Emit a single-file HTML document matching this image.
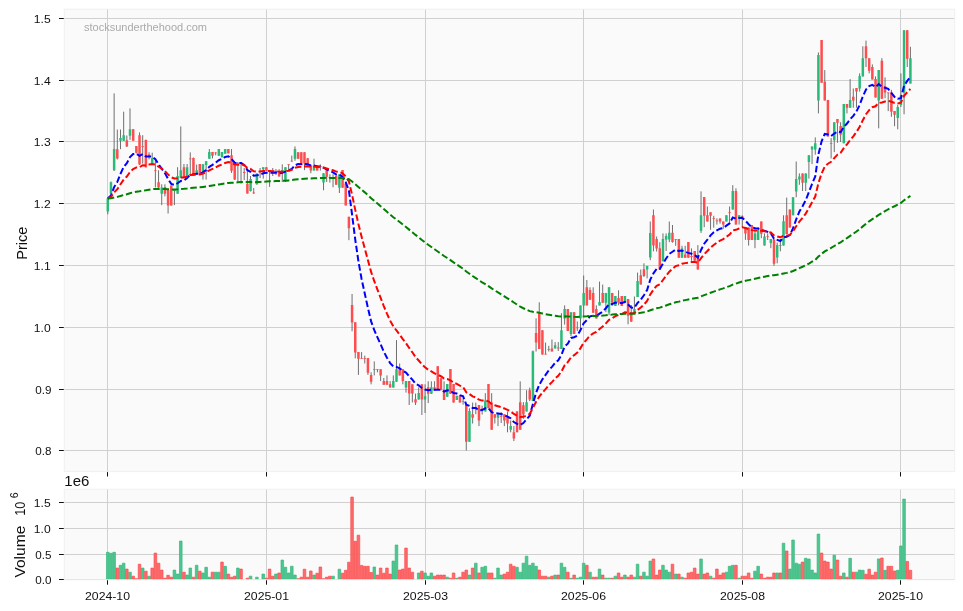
<!DOCTYPE html>
<html><head><meta charset="utf-8"><style>html,body{margin:0;padding:0;background:#fff;width:963px;height:611px;overflow:hidden;position:relative}</style></head>
<body><svg width="963" height="611" viewBox="0 0 963 611" style="position:absolute;left:0;top:0;will-change:transform"><defs><clipPath id="cp"><rect x="64.30" y="9.15" width="890.40" height="462.45"/></clipPath><clipPath id="cv"><rect x="64.30" y="489.20" width="890.40" height="90.60"/></clipPath></defs><rect x="64.3" y="9.15" width="890.40" height="462.45" fill="#fafafa"/><rect x="64.3" y="489.2" width="890.40" height="90.60" fill="#fafafa"/><path d="M107.5 9.15V471.6M107.5 489.2V579.8M266.5 9.15V471.6M266.5 489.2V579.8M425.5 9.15V471.6M425.5 489.2V579.8M583.5 9.15V471.6M583.5 489.2V579.8M742.5 9.15V471.6M742.5 489.2V579.8M900.5 9.15V471.6M900.5 489.2V579.8M64.3 450.5H954.7M64.3 389.5H954.7M64.3 327.5H954.7M64.3 265.5H954.7M64.3 203.5H954.7M64.3 141.5H954.7M64.3 80.5H954.7M64.3 18.5H954.7M64.3 579.5H954.7M64.3 554.5H954.7M64.3 528.5H954.7M64.3 502.5H954.7" stroke="#d0d0d0" stroke-width="1" fill="none"/><path d="M59 450.5H64.3M59 389.5H64.3M59 327.5H64.3M59 265.5H64.3M59 203.5H64.3M59 141.5H64.3M59 80.5H64.3M59 18.5H64.3M59 579.5H64.3M59 554.5H64.3M59 528.5H64.3M59 502.5H64.3M107.5 471.6v4.9M107.5 579.8v4.9M266.5 471.6v4.9M266.5 579.8v4.9M425.5 471.6v4.9M425.5 579.8v4.9M583.5 471.6v4.9M583.5 579.8v4.9M742.5 471.6v4.9M742.5 579.8v4.9M900.5 471.6v4.9M900.5 579.8v4.9" stroke="#101010" stroke-width="1" fill="none"/><text x="51.4" y="454.90" font-family="Liberation Sans, sans-serif" fill="#101010" font-size="11.1" text-anchor="end" textLength="16.2" lengthAdjust="spacingAndGlyphs">0.8</text><text x="51.4" y="393.90" font-family="Liberation Sans, sans-serif" fill="#101010" font-size="11.1" text-anchor="end" textLength="16.2" lengthAdjust="spacingAndGlyphs">0.9</text><text x="50.6" y="331.90" font-family="Liberation Sans, sans-serif" fill="#101010" font-size="11.1" text-anchor="end" textLength="16.8" lengthAdjust="spacingAndGlyphs">1.0</text><text x="50.6" y="269.90" font-family="Liberation Sans, sans-serif" fill="#101010" font-size="11.1" text-anchor="end" textLength="16.8" lengthAdjust="spacingAndGlyphs">1.1</text><text x="50.6" y="207.90" font-family="Liberation Sans, sans-serif" fill="#101010" font-size="11.1" text-anchor="end" textLength="16.8" lengthAdjust="spacingAndGlyphs">1.2</text><text x="50.6" y="145.90" font-family="Liberation Sans, sans-serif" fill="#101010" font-size="11.1" text-anchor="end" textLength="16.8" lengthAdjust="spacingAndGlyphs">1.3</text><text x="50.6" y="84.90" font-family="Liberation Sans, sans-serif" fill="#101010" font-size="11.1" text-anchor="end" textLength="16.8" lengthAdjust="spacingAndGlyphs">1.4</text><text x="50.6" y="22.90" font-family="Liberation Sans, sans-serif" fill="#101010" font-size="11.1" text-anchor="end" textLength="16.8" lengthAdjust="spacingAndGlyphs">1.5</text><text x="51.4" y="583.90" font-family="Liberation Sans, sans-serif" fill="#101010" font-size="11.1" text-anchor="end" textLength="16.2" lengthAdjust="spacingAndGlyphs">0.0</text><text x="51.4" y="558.90" font-family="Liberation Sans, sans-serif" fill="#101010" font-size="11.1" text-anchor="end" textLength="16.2" lengthAdjust="spacingAndGlyphs">0.5</text><text x="50.6" y="532.90" font-family="Liberation Sans, sans-serif" fill="#101010" font-size="11.1" text-anchor="end" textLength="16.8" lengthAdjust="spacingAndGlyphs">1.0</text><text x="50.6" y="506.90" font-family="Liberation Sans, sans-serif" fill="#101010" font-size="11.1" text-anchor="end" textLength="16.8" lengthAdjust="spacingAndGlyphs">1.5</text><text x="107.50" y="599.9" font-family="Liberation Sans, sans-serif" fill="#101010" font-size="10.8" text-anchor="middle" textLength="45" lengthAdjust="spacingAndGlyphs">2024-10</text><text x="266.50" y="599.9" font-family="Liberation Sans, sans-serif" fill="#101010" font-size="10.8" text-anchor="middle" textLength="45" lengthAdjust="spacingAndGlyphs">2025-01</text><text x="425.50" y="599.9" font-family="Liberation Sans, sans-serif" fill="#101010" font-size="10.8" text-anchor="middle" textLength="45" lengthAdjust="spacingAndGlyphs">2025-03</text><text x="583.50" y="599.9" font-family="Liberation Sans, sans-serif" fill="#101010" font-size="10.8" text-anchor="middle" textLength="45" lengthAdjust="spacingAndGlyphs">2025-06</text><text x="742.50" y="599.9" font-family="Liberation Sans, sans-serif" fill="#101010" font-size="10.8" text-anchor="middle" textLength="45" lengthAdjust="spacingAndGlyphs">2025-08</text><text x="900.50" y="599.9" font-family="Liberation Sans, sans-serif" fill="#101010" font-size="10.8" text-anchor="middle" textLength="45" lengthAdjust="spacingAndGlyphs">2025-10</text><text x="64.3" y="486" font-family="Liberation Sans, sans-serif" fill="#101010" font-size="14" textLength="25" lengthAdjust="spacingAndGlyphs">1e6</text><text transform="translate(26.5 243.2) rotate(-90)" font-family="Liberation Sans, sans-serif" fill="#101010" font-size="14" text-anchor="middle" textLength="33" lengthAdjust="spacingAndGlyphs">Price</text><text transform="translate(25.2 551.6) rotate(-90)" font-family="Liberation Sans, sans-serif" fill="#101010" font-size="14" text-anchor="middle" textLength="52" lengthAdjust="spacingAndGlyphs">Volume</text><text transform="translate(25.2 508.8) rotate(-90)" font-family="Liberation Sans, sans-serif" fill="#101010" font-size="14" text-anchor="middle" textLength="14" lengthAdjust="spacingAndGlyphs">10</text><text transform="translate(18.2 495.4) rotate(-90)" font-family="Liberation Sans, sans-serif" fill="#101010" font-size="10.6" text-anchor="middle">6</text><text x="84" y="30.7" font-family="Liberation Sans, sans-serif" fill="#aaaaaa" font-size="10" textLength="123" lengthAdjust="spacingAndGlyphs">stocksunderthehood.com</text><g clip-path="url(#cp)"><path d="M107.80 198.30V214.30M110.97 181.50V194.50M114.14 93.40V171.00M117.32 129.50V159.50M120.49 129.50V149.20M123.66 111.70V141.00M126.83 135.50V147.00M130.01 108.40V139.90M133.18 129.00V141.00M136.35 146.00V153.50M139.52 132.40V165.00M142.70 135.20V163.60M145.87 139.50V167.50M149.04 152.20V159.40M152.21 152.70V164.50M155.39 158.40V187.40M158.56 170.30V188.00M161.73 184.30V205.10M164.90 184.30V196.30M168.08 189.50V213.50M171.25 185.40V205.60M174.42 189.50V205.10M177.59 167.20V193.70M180.77 126.40V178.10M183.94 164.00V178.10M187.11 164.00V176.00M190.28 152.40V175.00M193.45 157.50V174.50M196.63 164.60V174.20M199.80 164.10V175.00M202.97 164.30V179.60M206.14 161.20V179.60M209.32 149.00V158.70M212.49 152.10V158.40M215.66 152.10V155.30M218.83 149.00V155.80M222.01 152.10V157.50M225.18 149.00V153.70M228.35 149.00V153.50M231.52 149.00V172.90M234.70 162.50V180.00M237.87 162.00V181.70M241.04 162.00V183.80M244.21 168.00V180.00M247.39 169.20V193.60M250.56 176.00V191.50M253.73 188.00V194.00M256.90 173.40V184.80M260.08 168.00V178.00M263.25 167.20V178.60M266.42 167.00V171.00M269.59 170.30V186.90M272.76 168.00V176.00M275.94 169.00V175.00M279.11 169.20V176.50M282.28 164.40V182.00M285.45 167.20V182.00M288.63 164.40V169.60M291.80 155.60V161.80M294.97 146.40V160.80M298.14 152.20V159.00M301.32 152.20V165.00M304.49 152.20V170.10M307.66 158.00V165.40M310.83 165.40V173.20M314.01 158.70V170.60M317.18 165.40V170.60M320.35 164.40V170.60M323.52 173.20V190.30M326.70 169.10V182.00M329.87 174.30V182.60M333.04 174.30V187.30M336.21 175.80V184.70M339.39 174.30V193.00M342.56 170.10V187.70M345.73 183.60V205.40M348.90 216.80V240.20M352.07 294.00V331.30M355.25 322.20V358.30M358.42 352.10V374.90M361.59 352.10V358.80M364.76 355.70V363.50M367.94 358.10V374.90M371.11 372.30V384.30M374.28 361.40V375.40M377.45 369.20V372.30M380.63 369.20V381.10M383.80 378.00V384.80M386.97 375.40V384.80M390.14 381.10V387.60M393.32 375.40V387.60M396.49 340.10V381.70M399.66 363.50V375.40M402.83 369.20V384.30M406.01 381.10V392.60M409.18 381.10V405.00M412.35 384.30V402.40M415.52 393.60V405.00M418.70 387.40V399.60M421.87 384.30V415.00M425.04 384.30V413.00M428.21 381.30V403.10M431.38 381.30V394.00M434.56 381.30V390.60M437.73 366.20V389.50M440.90 378.20V390.50M444.07 381.30V400.00M447.25 384.10V397.00M450.42 369.10V394.00M453.59 384.10V402.60M456.76 395.80V400.00M459.94 394.80V402.60M463.11 398.40V404.60M466.28 404.60V450.50M469.45 408.30V441.70M472.63 402.60V423.50M475.80 402.60V414.20M478.97 405.10V426.10M482.14 405.70V414.50M485.32 393.20V411.40M488.49 384.10V408.30M491.66 393.20V429.70M494.83 414.00V423.50M498.01 414.20V426.10M501.18 412.10V423.00M504.35 414.20V426.10M507.52 411.40V432.30M510.69 420.40V432.30M513.87 426.10V441.10M517.04 411.00V432.30M520.21 381.40V429.70M523.38 402.20V418.80M526.56 390.20V411.50M529.73 387.60V401.10M532.90 350.50V401.10M536.07 318.40V351.50M539.25 302.30V348.90M542.42 330.20V354.60M545.59 342.60V354.60M548.76 345.80V351.50M551.94 339.50V351.50M555.11 342.10V348.40M558.28 342.10V351.00M561.45 313.20V348.90M564.63 305.40V324.60M567.80 309.10V330.90M570.97 312.20V336.00M574.14 312.20V334.00M577.32 321.50V331.00M580.49 305.40V330.90M583.66 275.50V316.30M586.83 280.00V305.40M590.00 287.30V299.70M593.18 287.30V312.70M596.35 305.40V318.40M599.52 281.60V305.40M602.69 284.60V302.70M605.87 292.90V312.10M609.04 287.20V315.20M612.21 292.90V305.90M615.38 296.00V305.90M618.56 290.30V305.30M621.73 296.00V305.90M624.90 296.00V302.70M628.07 299.10V324.30M631.25 305.00V322.00M634.42 296.50V313.10M637.59 272.60V297.00M640.76 269.50V284.60M643.94 263.30V277.00M647.11 265.90V278.40M650.28 221.50V260.20M653.45 209.50V251.30M656.63 236.50V251.60M659.80 242.20V269.60M662.97 233.40V261.30M666.14 233.40V251.00M669.31 221.50V242.20M672.49 225.00V242.70M675.66 239.00V245.80M678.83 239.00V257.70M682.00 245.80V257.70M685.18 245.80V257.70M688.35 242.10V257.70M691.52 248.40V260.80M694.69 251.00V262.40M697.87 245.10V269.60M701.04 191.40V232.90M704.21 197.10V227.20M707.38 206.50V221.50M710.56 212.20V229.80M713.73 215.80V227.70M716.90 218.40V224.60M720.07 218.40V223.60M723.25 221.50V228.80M726.42 215.30V221.50M729.59 206.50V224.60M732.76 185.20V209.60M735.94 188.30V224.60M739.11 215.30V224.60M742.28 215.30V227.70M745.45 227.60V239.90M748.62 227.60V245.60M751.80 225.00V240.00M754.97 227.20V248.20M758.14 227.20V240.00M761.31 221.40V238.20M764.49 233.40V245.60M767.66 233.40V240.00M770.83 239.00V248.20M774.00 239.40V265.90M777.18 242.50V263.30M780.35 238.90V251.30M783.52 215.30V245.60M786.69 197.60V234.10M789.87 209.60V227.60M793.04 197.20V215.30M796.21 161.50V197.20M799.38 173.40V184.80M802.56 173.40V191.00M805.73 173.40V191.00M808.90 155.20V178.60M812.07 146.40V164.10M815.25 137.40V154.70M818.42 52.50V113.40M821.59 40.00V82.70M824.76 70.10V100.40M827.93 99.90V136.60M831.11 138.10V158.40M834.28 122.20V152.10M837.45 119.10V142.80M840.62 122.20V142.00M843.80 104.10V143.30M846.97 104.10V113.40M850.14 79.10V107.70M853.31 88.50V107.70M856.49 88.00V107.70M859.66 73.30V91.60M862.83 46.30V76.40M866.00 40.60V67.00M869.18 58.20V73.30M872.35 64.40V79.50M875.52 76.40V97.50M878.69 70.10V128.30M881.87 58.20V98.80M885.04 77.40V98.20M888.21 92.50V111.10M891.38 89.90V116.80M894.56 111.10V126.20M897.73 104.90V129.30M900.90 73.30V107.00M904.07 30.20V114.30M907.24 30.20V67.00M910.42 46.80V83.60" stroke="#606060" stroke-width="0.9" fill="none"/><path d="M106.55 198.50h2.5v12.90h-2.5zM109.72 182.30h2.5v11.40h-2.5zM112.89 149.00h2.5v21.30h-2.5zM119.24 138.10h2.5v2.60h-2.5zM122.41 135.20h2.5v5.50h-2.5zM128.76 129.30h2.5v6.40h-2.5zM150.96 157.90h2.5v5.70h-2.5zM160.48 187.40h2.5v6.30h-2.5zM173.17 189.50h2.5v1.50h-2.5zM176.34 176.00h2.5v17.70h-2.5zM179.52 170.30h2.5v7.80h-2.5zM185.86 167.20h2.5v8.80h-2.5zM195.38 170.30h2.5v3.60h-2.5zM201.72 164.30h2.5v7.00h-2.5zM204.89 161.20h2.5v3.90h-2.5zM208.07 152.10h2.5v6.60h-2.5zM217.58 149.00h2.5v6.80h-2.5zM220.76 152.10h2.5v5.20h-2.5zM223.93 149.00h2.5v4.70h-2.5zM236.62 164.50h2.5v1.50h-2.5zM249.31 179.10h2.5v11.90h-2.5zM255.65 173.40h2.5v10.90h-2.5zM262.00 167.20h2.5v2.10h-2.5zM281.03 170.00h2.5v1.00h-2.5zM284.20 167.20h2.5v12.80h-2.5zM293.72 149.10h2.5v9.60h-2.5zM312.76 165.40h2.5v5.20h-2.5zM322.27 173.20h2.5v9.40h-2.5zM338.14 174.30h2.5v13.40h-2.5zM392.07 381.10h2.5v6.50h-2.5zM395.24 369.20h2.5v12.50h-2.5zM404.76 381.10h2.5v6.50h-2.5zM417.45 393.10h2.5v6.50h-2.5zM423.79 396.20h2.5v3.40h-2.5zM430.13 387.20h2.5v6.50h-2.5zM446.00 384.10h2.5v12.70h-2.5zM455.51 395.80h2.5v4.20h-2.5zM468.20 411.00h2.5v30.70h-2.5zM484.07 400.50h2.5v10.90h-2.5zM496.76 414.20h2.5v3.60h-2.5zM509.44 426.10h2.5v3.60h-2.5zM525.31 402.20h2.5v9.30h-2.5zM531.65 351.20h2.5v49.90h-2.5zM553.86 345.20h2.5v3.20h-2.5zM560.20 330.20h2.5v18.70h-2.5zM563.38 309.10h2.5v9.30h-2.5zM569.72 312.20h2.5v21.80h-2.5zM579.24 305.40h2.5v13.00h-2.5zM582.41 293.00h2.5v12.40h-2.5zM598.27 302.00h2.5v3.40h-2.5zM604.62 292.90h2.5v9.80h-2.5zM607.79 287.20h2.5v25.40h-2.5zM614.13 296.00h2.5v9.90h-2.5zM623.65 296.00h2.5v6.70h-2.5zM633.17 309.00h2.5v4.10h-2.5zM636.34 281.00h2.5v16.00h-2.5zM645.86 266.00h2.5v3.60h-2.5zM649.03 232.90h2.5v24.50h-2.5zM661.72 239.10h2.5v22.20h-2.5zM664.89 235.90h2.5v3.60h-2.5zM668.06 232.80h2.5v6.70h-2.5zM680.75 248.40h2.5v9.30h-2.5zM699.79 215.30h2.5v15.50h-2.5zM725.17 215.30h2.5v6.20h-2.5zM731.51 190.90h2.5v18.70h-2.5zM737.86 215.30h2.5v3.10h-2.5zM753.72 233.40h2.5v6.60h-2.5zM756.89 230.20h2.5v9.80h-2.5zM763.24 236.50h2.5v9.10h-2.5zM769.58 239.00h2.5v4.00h-2.5zM775.93 245.10h2.5v12.50h-2.5zM782.27 221.30h2.5v24.30h-2.5zM791.79 197.20h2.5v18.10h-2.5zM794.96 179.10h2.5v12.50h-2.5zM798.13 176.50h2.5v3.10h-2.5zM804.48 173.40h2.5v9.30h-2.5zM807.65 155.20h2.5v6.80h-2.5zM810.82 146.40h2.5v3.10h-2.5zM814.00 143.30h2.5v6.20h-2.5zM817.17 55.10h2.5v45.30h-2.5zM833.03 122.20h2.5v18.00h-2.5zM842.55 104.10h2.5v39.20h-2.5zM848.89 99.90h2.5v7.80h-2.5zM858.41 75.90h2.5v12.60h-2.5zM861.58 58.20h2.5v18.20h-2.5zM877.44 70.10h2.5v30.50h-2.5zM896.48 107.00h2.5v10.90h-2.5zM899.65 95.60h2.5v9.30h-2.5zM902.82 30.20h2.5v62.30h-2.5zM909.17 58.20h2.5v25.40h-2.5z" fill="#29ba78"/><path d="M116.07 149.20h2.5v9.40h-2.5zM125.58 140.20h2.5v6.40h-2.5zM131.93 129.20h2.5v11.50h-2.5zM135.10 146.10h2.5v6.60h-2.5zM138.27 135.20h2.5v29.40h-2.5zM141.45 146.00h2.5v0.80h-2.5zM144.62 139.90h2.5v27.30h-2.5zM147.79 154.50h2.5v1.50h-2.5zM154.14 170.00h2.5v0.80h-2.5zM157.31 182.30h2.5v5.10h-2.5zM163.65 186.90h2.5v6.80h-2.5zM166.83 189.50h2.5v16.10h-2.5zM170.00 185.40h2.5v20.20h-2.5zM182.69 167.20h2.5v10.90h-2.5zM189.03 158.40h2.5v0.80h-2.5zM192.20 158.00h2.5v15.90h-2.5zM198.55 164.10h2.5v10.30h-2.5zM211.24 152.10h2.5v3.70h-2.5zM214.41 152.40h2.5v0.80h-2.5zM227.10 149.00h2.5v4.20h-2.5zM230.27 155.20h2.5v15.60h-2.5zM233.45 162.50h2.5v17.10h-2.5zM239.79 162.50h2.5v1.00h-2.5zM242.96 172.00h2.5v1.00h-2.5zM246.14 183.80h2.5v9.80h-2.5zM252.48 192.50h2.5v0.80h-2.5zM258.83 171.00h2.5v1.00h-2.5zM265.17 167.20h2.5v3.60h-2.5zM268.34 170.30h2.5v1.20h-2.5zM271.51 172.00h2.5v1.00h-2.5zM274.69 171.00h2.5v1.00h-2.5zM277.86 172.40h2.5v4.10h-2.5zM287.38 164.20h2.5v0.80h-2.5zM290.55 160.80h2.5v0.80h-2.5zM296.89 152.20h2.5v6.50h-2.5zM300.07 152.20h2.5v12.70h-2.5zM303.24 152.20h2.5v11.20h-2.5zM306.41 158.20h2.5v7.20h-2.5zM309.58 165.40h2.5v5.20h-2.5zM315.93 165.40h2.5v5.20h-2.5zM319.10 166.00h2.5v1.00h-2.5zM325.45 169.10h2.5v7.70h-2.5zM328.62 177.00h2.5v1.00h-2.5zM331.79 177.60h2.5v1.00h-2.5zM334.96 175.80h2.5v8.90h-2.5zM341.31 170.10h2.5v17.60h-2.5zM344.48 183.60h2.5v21.80h-2.5zM347.65 216.80h2.5v11.50h-2.5zM350.82 304.90h2.5v17.60h-2.5zM354.00 322.20h2.5v30.40h-2.5zM357.17 352.10h2.5v6.70h-2.5zM360.34 358.00h2.5v0.80h-2.5zM363.51 358.00h2.5v0.80h-2.5zM366.69 358.10h2.5v14.70h-2.5zM369.86 374.90h2.5v6.80h-2.5zM373.03 369.00h2.5v0.80h-2.5zM376.20 369.00h2.5v0.80h-2.5zM379.38 369.20h2.5v6.20h-2.5zM382.55 381.10h2.5v3.70h-2.5zM385.72 381.10h2.5v3.70h-2.5zM388.89 384.30h2.5v3.30h-2.5zM398.41 369.20h2.5v6.20h-2.5zM401.58 369.20h2.5v11.90h-2.5zM407.93 381.10h2.5v12.50h-2.5zM411.10 384.30h2.5v9.30h-2.5zM414.27 399.30h2.5v3.10h-2.5zM420.62 384.30h2.5v15.30h-2.5zM426.96 387.30h2.5v6.40h-2.5zM433.31 387.20h2.5v3.40h-2.5zM436.48 366.20h2.5v22.90h-2.5zM439.65 378.20h2.5v11.90h-2.5zM442.82 390.10h2.5v9.90h-2.5zM449.17 369.10h2.5v24.60h-2.5zM452.34 384.10h2.5v18.50h-2.5zM458.69 395.80h2.5v6.80h-2.5zM461.86 401.00h2.5v0.80h-2.5zM465.03 404.60h2.5v37.10h-2.5zM471.38 414.20h2.5v3.60h-2.5zM474.55 407.50h2.5v0.80h-2.5zM477.72 405.10h2.5v15.30h-2.5zM480.89 408.50h2.5v0.70h-2.5zM487.24 384.10h2.5v24.20h-2.5zM490.41 402.60h2.5v27.10h-2.5zM493.58 414.20h2.5v3.60h-2.5zM499.93 416.00h2.5v0.80h-2.5zM503.10 414.20h2.5v6.20h-2.5zM506.27 416.20h2.5v7.30h-2.5zM512.62 432.30h2.5v6.20h-2.5zM515.79 411.50h2.5v20.80h-2.5zM518.96 402.20h2.5v27.50h-2.5zM522.13 405.30h2.5v9.30h-2.5zM528.48 390.20h2.5v9.40h-2.5zM534.82 332.90h2.5v9.70h-2.5zM538.00 313.20h2.5v35.70h-2.5zM541.17 330.20h2.5v24.40h-2.5zM544.34 353.80h2.5v0.80h-2.5zM547.51 349.00h2.5v0.80h-2.5zM550.69 348.40h2.5v3.10h-2.5zM557.03 347.60h2.5v0.80h-2.5zM566.55 309.10h2.5v21.80h-2.5zM572.89 312.20h2.5v21.80h-2.5zM576.07 327.50h2.5v0.80h-2.5zM585.58 287.30h2.5v18.10h-2.5zM588.75 289.90h2.5v9.80h-2.5zM591.93 293.00h2.5v19.70h-2.5zM595.10 309.10h2.5v9.30h-2.5zM601.44 292.90h2.5v9.80h-2.5zM610.96 292.90h2.5v9.80h-2.5zM617.31 298.10h2.5v4.60h-2.5zM620.48 296.00h2.5v9.90h-2.5zM626.82 299.10h2.5v16.60h-2.5zM630.00 314.00h2.5v7.40h-2.5zM639.51 275.20h2.5v9.40h-2.5zM642.69 269.30h2.5v6.70h-2.5zM652.20 215.20h2.5v30.30h-2.5zM655.38 239.00h2.5v9.40h-2.5zM658.55 248.20h2.5v21.40h-2.5zM671.24 232.80h2.5v9.30h-2.5zM674.41 239.00h2.5v0.80h-2.5zM677.58 239.00h2.5v18.70h-2.5zM683.93 254.60h2.5v3.10h-2.5zM687.10 242.10h2.5v15.60h-2.5zM690.27 256.00h2.5v1.00h-2.5zM693.44 251.00h2.5v9.80h-2.5zM696.62 257.20h2.5v12.40h-2.5zM702.96 197.10h2.5v18.70h-2.5zM706.13 215.30h2.5v6.20h-2.5zM709.31 212.20h2.5v3.60h-2.5zM712.48 218.00h2.5v0.80h-2.5zM715.65 220.50h2.5v0.80h-2.5zM718.82 218.40h2.5v3.10h-2.5zM722.00 221.50h2.5v3.10h-2.5zM728.34 212.00h2.5v0.80h-2.5zM734.69 190.90h2.5v33.70h-2.5zM741.03 216.00h2.5v0.80h-2.5zM744.20 227.60h2.5v6.00h-2.5zM747.37 227.60h2.5v12.40h-2.5zM750.55 225.00h2.5v15.00h-2.5zM760.06 221.40h2.5v12.40h-2.5zM766.41 236.00h2.5v0.80h-2.5zM772.75 239.40h2.5v24.40h-2.5zM779.10 245.00h2.5v0.80h-2.5zM785.44 215.30h2.5v18.80h-2.5zM788.62 209.60h2.5v18.00h-2.5zM801.31 173.40h2.5v9.30h-2.5zM820.34 40.00h2.5v42.70h-2.5zM823.51 81.70h2.5v18.70h-2.5zM826.68 99.90h2.5v36.70h-2.5zM829.86 143.00h2.5v0.80h-2.5zM836.20 119.10h2.5v3.60h-2.5zM839.37 125.90h2.5v8.80h-2.5zM845.72 104.10h2.5v3.60h-2.5zM852.06 96.80h2.5v3.60h-2.5zM855.24 88.00h2.5v3.60h-2.5zM864.75 46.30h2.5v11.90h-2.5zM867.93 58.20h2.5v12.50h-2.5zM871.10 67.00h2.5v12.50h-2.5zM874.27 79.00h2.5v18.50h-2.5zM880.62 60.80h2.5v38.00h-2.5zM883.79 86.20h2.5v6.30h-2.5zM886.96 92.50h2.5v0.80h-2.5zM890.13 92.50h2.5v19.20h-2.5zM893.31 111.10h2.5v3.70h-2.5zM905.99 30.20h2.5v28.50h-2.5z" fill="#ff4c4e"/><polyline points="107.80,198.50 110.97,195.55 114.14,187.09 117.32,181.91 120.49,173.94 123.66,166.90 126.83,163.21 130.01,157.04 133.18,154.07 136.35,153.82 139.52,155.78 142.70,154.15 145.87,156.52 149.04,156.43 152.21,156.69 155.39,159.26 158.56,164.38 161.73,168.56 164.90,173.13 168.08,179.04 171.25,183.87 174.42,184.89 177.59,183.27 180.77,180.91 183.94,180.40 187.11,178.00 190.28,174.58 193.45,174.46 196.63,173.70 199.80,173.83 202.97,172.10 206.14,170.12 209.32,166.84 212.49,164.83 215.66,162.72 218.83,160.22 222.01,158.75 225.18,156.97 228.35,156.29 231.52,158.93 234.70,162.69 237.87,163.02 241.04,163.10 244.21,164.90 247.39,170.12 250.56,171.75 253.73,175.67 256.90,175.26 260.08,174.67 263.25,173.31 266.42,172.85 269.59,172.61 272.76,172.68 275.94,172.55 279.11,173.27 282.28,172.68 285.45,171.68 288.63,170.47 291.80,168.85 294.97,165.26 298.14,164.07 301.32,164.22 304.49,164.07 307.66,164.31 310.83,165.46 314.01,165.45 317.18,166.38 320.35,166.50 323.52,167.71 326.70,169.37 329.87,170.94 333.04,172.33 336.21,174.58 339.39,174.53 342.56,176.92 345.73,182.10 348.90,190.50 352.07,214.50 355.25,239.61 358.42,261.28 361.59,279.01 364.76,293.52 367.94,307.93 371.11,321.35 374.28,330.16 377.45,337.36 380.63,344.28 383.80,351.65 386.97,357.67 390.14,363.12 393.32,366.39 396.49,366.90 399.66,368.44 402.83,370.74 406.01,372.63 409.18,376.44 412.35,379.56 415.52,383.71 418.70,385.42 421.87,388.00 425.04,389.49 428.21,390.25 431.38,389.70 434.56,389.86 437.73,389.72 440.90,389.79 444.07,391.65 447.25,390.28 450.42,390.90 453.59,393.03 456.76,393.53 459.94,395.18 463.11,396.38 466.28,404.62 469.45,405.78 472.63,407.97 475.80,408.03 478.97,410.28 482.14,410.08 485.32,408.34 488.49,408.33 491.66,412.22 494.83,413.23 498.01,413.41 501.18,414.02 504.35,415.18 507.52,416.70 510.69,418.41 513.87,422.06 517.04,423.92 520.21,424.97 523.38,423.09 526.56,419.29 529.73,415.71 532.90,403.98 536.07,392.82 539.25,384.83 542.42,379.34 545.59,374.84 548.76,370.29 551.94,366.87 555.11,362.93 558.28,360.29 561.45,354.82 564.63,346.51 567.80,343.67 570.97,337.95 574.14,337.23 577.32,335.61 580.49,330.11 583.66,323.37 586.83,320.10 590.00,316.39 593.18,315.72 596.35,316.21 599.52,313.62 602.69,311.64 605.87,308.23 609.04,304.41 612.21,304.10 615.38,302.62 618.56,302.64 621.73,303.23 624.90,301.92 628.07,304.42 631.25,307.51 634.42,307.78 637.59,302.91 640.76,299.58 643.94,295.29 647.11,289.97 650.28,279.59 653.45,273.39 656.63,268.85 659.80,268.99 662.97,263.55 666.14,258.52 669.31,253.85 672.49,251.71 675.66,249.55 678.83,251.03 682.00,250.55 685.18,251.85 688.35,252.91 691.52,253.66 694.69,254.96 697.87,257.62 701.04,249.92 704.21,243.72 707.38,239.68 710.56,235.34 713.73,232.33 716.90,230.33 720.07,228.72 723.25,227.97 726.42,225.67 729.59,223.33 732.76,217.43 735.94,218.74 739.11,218.11 742.28,217.87 745.45,220.73 748.62,224.24 751.80,227.10 754.97,228.25 758.14,228.60 761.31,229.55 764.49,230.81 767.66,231.90 770.83,233.19 774.00,238.76 777.18,239.91 780.35,240.98 783.52,237.40 786.69,236.80 789.87,235.13 793.04,228.23 796.21,219.30 799.38,211.52 802.56,206.28 805.73,200.30 808.90,192.10 812.07,183.79 815.25,176.43 818.42,154.37 821.59,141.34 824.76,133.90 827.93,134.39 831.11,136.10 834.28,133.57 837.45,131.59 840.62,132.16 843.80,127.06 846.97,123.54 850.14,119.24 853.31,115.81 856.49,111.41 859.66,104.96 862.83,96.45 866.00,89.50 869.18,86.08 872.35,84.88 875.52,87.18 878.69,84.07 881.87,86.75 885.04,87.80 888.21,88.80 891.38,92.96 894.56,96.93 897.73,98.76 900.90,98.19 904.07,85.83 907.24,80.89 910.42,76.77" fill="none" stroke="#0000ff" stroke-width="2.0" stroke-dasharray="6.5 2.8"/><polyline points="107.80,198.50 110.97,196.96 114.14,192.39 117.32,189.17 120.49,184.31 123.66,179.63 126.83,176.49 130.01,171.99 133.18,169.01 136.35,167.46 139.52,167.19 142.70,165.24 145.87,165.43 149.04,164.53 152.21,163.90 155.39,164.56 158.56,166.73 161.73,168.70 164.90,171.08 168.08,174.37 171.25,177.34 174.42,178.50 177.59,178.26 180.77,177.50 183.94,177.56 187.11,176.57 190.28,174.92 193.45,174.82 196.63,174.39 199.80,174.39 202.97,173.43 206.14,172.27 209.32,170.35 212.49,168.96 215.66,167.46 218.83,165.70 222.01,164.41 225.18,162.94 228.35,162.01 231.52,162.85 234.70,164.44 237.87,164.45 241.04,164.36 244.21,165.18 247.39,167.89 250.56,168.96 253.73,171.27 256.90,171.48 260.08,171.53 263.25,171.11 266.42,171.08 269.59,171.12 272.76,171.30 275.94,171.37 279.11,171.86 282.28,171.68 285.45,171.25 288.63,170.66 291.80,169.80 294.97,167.82 298.14,166.96 301.32,166.76 304.49,166.44 307.66,166.34 310.83,166.75 314.01,166.62 317.18,167.00 320.35,167.00 323.52,167.59 326.70,168.47 329.87,169.37 333.04,170.25 336.21,171.63 339.39,171.88 342.56,173.39 345.73,176.44 348.90,181.38 352.07,194.82 355.25,209.84 358.42,224.03 361.59,236.87 364.76,248.48 367.94,260.32 371.11,271.88 374.28,281.20 377.45,289.64 380.63,297.81 383.80,306.09 386.97,313.59 390.14,320.64 393.32,326.40 396.49,330.47 399.66,334.75 402.83,339.17 406.01,343.16 409.18,347.96 412.35,352.31 415.52,357.08 418.70,360.51 421.87,364.23 425.04,367.28 428.21,369.79 431.38,371.45 434.56,373.28 437.73,374.78 440.90,376.24 444.07,378.50 447.25,379.04 450.42,380.43 453.59,382.54 456.76,383.81 459.94,385.60 463.11,387.14 466.28,392.34 469.45,394.11 472.63,396.37 475.80,397.51 478.97,399.69 482.14,400.59 485.32,400.58 488.49,401.32 491.66,404.02 494.83,405.33 498.01,406.18 501.18,407.19 504.35,408.45 507.52,409.88 510.69,411.43 513.87,414.00 517.04,415.75 520.21,417.08 523.38,416.84 526.56,415.45 529.73,413.94 532.90,407.96 536.07,401.74 539.25,396.70 542.42,392.69 545.59,389.07 548.76,385.33 551.94,382.11 555.11,378.59 558.28,375.72 561.45,371.38 564.63,365.45 567.80,362.16 570.97,357.40 574.14,355.17 577.32,352.61 580.49,348.12 583.66,342.87 586.83,339.30 590.00,335.53 593.18,333.35 596.35,331.93 599.52,329.08 602.69,326.57 605.87,323.36 609.04,319.92 612.21,318.28 615.38,316.16 618.56,314.87 621.73,314.02 624.90,312.30 628.07,312.63 631.25,313.46 634.42,313.04 637.59,309.99 640.76,307.57 643.94,304.56 647.11,300.89 650.28,294.41 653.45,289.76 656.63,285.82 659.80,284.27 662.97,279.97 666.14,275.77 669.31,271.68 672.49,268.86 675.66,266.10 678.83,265.30 682.00,263.69 685.18,263.12 688.35,262.60 691.52,262.07 694.69,261.95 697.87,262.68 701.04,258.16 704.21,254.13 707.38,251.02 710.56,247.67 713.73,244.92 716.90,242.67 720.07,240.65 723.25,239.12 726.42,236.85 729.59,234.56 732.76,230.41 735.94,229.85 739.11,228.47 742.28,227.36 745.45,227.95 748.62,229.10 751.80,230.14 754.97,230.45 758.14,230.42 761.31,230.74 764.49,231.29 767.66,231.82 770.83,232.50 774.00,235.48 777.18,236.40 780.35,237.29 783.52,235.77 786.69,235.61 789.87,234.85 793.04,231.26 796.21,226.29 799.38,221.55 802.56,217.85 805.73,213.62 808.90,208.06 812.07,202.18 815.25,196.58 818.42,183.10 821.59,173.54 824.76,166.57 827.93,163.72 831.11,161.82 834.28,158.05 837.45,154.68 840.62,152.78 843.80,148.14 846.97,144.29 850.14,140.06 853.31,136.29 856.49,132.03 859.66,126.68 862.83,120.16 866.00,114.26 869.18,110.11 872.35,107.20 875.52,106.27 878.69,102.83 881.87,102.44 885.04,101.50 888.21,100.72 891.38,101.76 894.56,103.00 897.73,103.38 900.90,102.64 904.07,95.74 907.24,92.22 910.42,88.98" fill="none" stroke="#ff0000" stroke-width="2.0" stroke-dasharray="6.5 2.8"/><polyline points="107.80,198.50 110.97,198.24 114.14,197.47 117.32,196.86 120.49,195.93 123.66,194.98 126.83,194.21 130.01,193.19 133.18,192.36 136.35,191.74 139.52,191.31 142.70,190.61 145.87,190.24 149.04,189.70 152.21,189.20 155.39,188.91 158.56,188.89 161.73,188.87 164.90,188.94 168.08,189.20 171.25,189.46 174.42,189.46 177.59,189.25 180.77,188.95 183.94,188.78 187.11,188.44 190.28,187.98 193.45,187.76 196.63,187.48 199.80,187.28 202.97,186.92 206.14,186.51 209.32,185.97 212.49,185.49 215.66,184.99 218.83,184.42 222.01,183.91 225.18,183.36 228.35,182.89 231.52,182.70 234.70,182.65 237.87,182.36 241.04,182.06 244.21,181.92 247.39,182.11 250.56,182.06 253.73,182.23 256.90,182.10 260.08,181.94 263.25,181.70 266.42,181.53 269.59,181.37 272.76,181.24 275.94,181.10 279.11,181.03 282.28,180.85 285.45,180.64 288.63,180.39 291.80,180.09 294.97,179.61 298.14,179.28 301.32,179.05 304.49,178.80 307.66,178.59 310.83,178.47 314.01,178.26 317.18,178.14 320.35,177.97 323.52,177.89 326.70,177.87 329.87,177.88 333.04,177.89 336.21,177.99 339.39,177.94 342.56,178.09 345.73,178.52 348.90,179.30 352.07,181.56 355.25,184.25 358.42,187.00 361.59,189.71 364.76,192.37 367.94,195.21 371.11,198.15 374.28,200.85 377.45,203.51 380.63,206.22 383.80,209.03 386.97,211.80 390.14,214.57 393.32,217.19 396.49,219.58 399.66,222.04 402.83,224.54 406.01,227.01 409.18,229.63 412.35,232.21 415.52,234.89 418.70,237.38 421.87,239.94 425.04,242.40 428.21,244.78 431.38,247.03 434.56,249.29 437.73,251.49 440.90,253.67 444.07,255.98 447.25,257.99 450.42,260.13 453.59,262.37 456.76,264.48 459.94,266.65 463.11,268.78 466.28,271.50 469.45,273.70 472.63,275.97 475.80,278.05 478.97,280.29 482.14,282.32 485.32,284.18 488.49,286.14 491.66,288.40 494.83,290.44 498.01,292.39 501.18,294.35 504.35,296.33 507.52,298.33 510.69,300.35 513.87,302.52 517.04,304.57 520.21,306.54 523.38,308.24 526.56,309.72 529.73,311.13 532.90,311.76 536.07,312.25 539.25,312.83 542.42,313.48 545.59,314.13 548.76,314.69 551.94,315.27 555.11,315.74 558.28,316.26 561.45,316.48 564.63,316.36 567.80,316.59 570.97,316.52 574.14,316.80 577.32,316.98 580.49,316.80 583.66,316.42 586.83,316.25 590.00,315.99 593.18,315.94 596.35,315.97 599.52,315.75 602.69,315.55 605.87,315.19 609.04,314.75 612.21,314.56 615.38,314.27 618.56,314.09 621.73,313.96 624.90,313.68 628.07,313.71 631.25,313.83 634.42,313.75 637.59,313.24 640.76,312.79 643.94,312.21 647.11,311.48 650.28,310.24 653.45,309.22 656.63,308.26 659.80,307.65 662.97,306.58 666.14,305.46 669.31,304.32 672.49,303.34 675.66,302.34 678.83,301.63 682.00,300.80 685.18,300.12 688.35,299.45 691.52,298.78 694.69,298.18 697.87,297.73 701.04,296.43 704.21,295.16 707.38,294.00 710.56,292.77 713.73,291.61 716.90,290.50 720.07,289.41 723.25,288.39 726.42,287.24 729.59,286.07 732.76,284.57 735.94,283.63 739.11,282.55 742.28,281.52 745.45,280.76 748.62,280.12 751.80,279.49 754.97,278.76 758.14,278.00 761.31,277.30 764.49,276.66 767.66,276.03 770.83,275.45 774.00,275.26 777.18,274.79 780.35,274.33 783.52,273.50 786.69,272.88 789.87,272.16 793.04,270.98 796.21,269.54 799.38,268.07 802.56,266.73 805.73,265.26 808.90,263.52 812.07,261.68 815.25,259.82 818.42,256.59 821.59,253.85 824.76,251.44 827.93,249.63 831.11,247.96 834.28,245.98 837.45,244.04 840.62,242.32 843.80,240.14 846.97,238.06 850.14,235.88 853.31,233.75 856.49,231.51 859.66,229.06 862.83,226.37 866.00,223.72 869.18,221.31 872.35,219.08 875.52,217.16 878.69,214.84 881.87,213.02 885.04,211.12 888.21,209.26 891.38,207.73 894.56,206.26 897.73,204.70 900.90,202.98 904.07,200.26 907.24,198.03 910.42,195.83" fill="none" stroke="#008000" stroke-width="2.0" stroke-dasharray="6.5 2.8"/></g><g clip-path="url(#cv)"><path d="M106.50 552.30H109.10V579.2H106.50zM109.67 553.30H112.27V579.2H109.67zM112.84 552.30H115.44V579.2H112.84zM119.19 565.30H121.79V579.2H119.19zM122.36 563.20H124.96V579.2H122.36zM128.71 572.20H131.31V579.2H128.71zM141.40 568.10H144.00V579.2H141.40zM147.74 576.20H150.34V579.2H147.74zM173.12 570.10H175.72V579.2H173.12zM176.29 574.10H178.89V579.2H176.29zM179.47 541.10H182.07V579.2H179.47zM185.81 575.10H188.41V579.2H185.81zM188.98 568.10H191.58V579.2H188.98zM195.33 565.30H197.93V579.2H195.33zM201.67 573.00H204.27V579.2H201.67zM204.84 567.30H207.44V579.2H204.84zM208.02 577.20H210.62V579.2H208.02zM214.36 572.20H216.96V579.2H214.36zM217.53 572.20H220.13V579.2H217.53zM223.88 566.30H226.48V579.2H223.88zM236.57 568.10H239.17V579.2H236.57zM249.26 576.20H251.86V579.2H249.26zM255.60 577.20H258.20V579.2H255.60zM261.95 574.10H264.55V579.2H261.95zM274.64 574.10H277.24V579.2H274.64zM280.98 560.10H283.58V579.2H280.98zM284.15 567.30H286.75V579.2H284.15zM287.33 573.00H289.93V579.2H287.33zM290.50 566.30H293.10V579.2H290.50zM293.67 575.10H296.27V579.2H293.67zM312.71 575.10H315.31V579.2H312.71zM331.74 576.20H334.34V579.2H331.74zM338.09 569.20H340.69V579.2H338.09zM372.98 567.00H375.58V579.2H372.98zM392.02 561.10H394.62V579.2H392.02zM395.19 545.00H397.79V579.2H395.19zM417.40 573.00H420.00V579.2H417.40zM423.74 573.00H426.34V579.2H423.74zM426.91 576.20H429.51V579.2H426.91zM430.08 573.00H432.68V579.2H430.08zM445.95 577.20H448.55V579.2H445.95zM455.46 578.20H458.06V579.2H455.46zM468.15 575.10H470.75V579.2H468.15zM474.50 563.20H477.10V579.2H474.50zM480.84 567.30H483.44V579.2H480.84zM484.02 566.30H486.62V579.2H484.02zM493.53 578.20H496.13V579.2H493.53zM496.71 568.10H499.31V579.2H496.71zM499.88 575.10H502.48V579.2H499.88zM515.74 567.30H518.34V579.2H515.74zM518.91 572.20H521.51V579.2H518.91zM522.08 563.20H524.68V579.2H522.08zM525.26 556.20H527.86V579.2H525.26zM528.43 565.30H531.03V579.2H528.43zM531.60 563.20H534.20V579.2H531.60zM534.77 566.30H537.37V579.2H534.77zM547.46 577.20H550.06V579.2H547.46zM553.81 575.10H556.41V579.2H553.81zM560.15 563.20H562.75V579.2H560.15zM563.33 567.30H565.93V579.2H563.33zM569.67 578.20H572.27V579.2H569.67zM576.02 578.20H578.62V579.2H576.02zM579.19 577.20H581.79V579.2H579.19zM582.36 563.20H584.96V579.2H582.36zM588.70 572.20H591.30V579.2H588.70zM598.22 569.10H600.82V579.2H598.22zM604.57 578.20H607.17V579.2H604.57zM607.74 578.20H610.34V579.2H607.74zM614.08 576.20H616.68V579.2H614.08zM623.60 575.10H626.20V579.2H623.60zM633.12 577.20H635.72V579.2H633.12zM636.29 564.20H638.89V579.2H636.29zM642.64 572.20H645.24V579.2H642.64zM645.81 576.20H648.41V579.2H645.81zM648.98 561.10H651.58V579.2H648.98zM661.67 565.30H664.27V579.2H661.67zM664.84 570.10H667.44V579.2H664.84zM668.01 572.20H670.61V579.2H668.01zM674.36 574.10H676.96V579.2H674.36zM680.70 577.20H683.30V579.2H680.70zM699.74 559.00H702.34V579.2H699.74zM709.26 576.20H711.86V579.2H709.26zM725.12 572.20H727.72V579.2H725.12zM728.29 566.30H730.89V579.2H728.29zM731.46 565.30H734.06V579.2H731.46zM737.81 578.20H740.41V579.2H737.81zM753.67 571.20H756.27V579.2H753.67zM756.84 566.30H759.44V579.2H756.84zM775.88 573.00H778.48V579.2H775.88zM782.22 543.20H784.82V579.2H782.22zM788.57 569.10H791.17V579.2H788.57zM791.74 540.00H794.34V579.2H791.74zM794.91 563.20H797.51V579.2H794.91zM798.08 564.20H800.68V579.2H798.08zM804.43 558.30H807.03V579.2H804.43zM807.60 559.00H810.20V579.2H807.60zM810.77 570.10H813.37V579.2H810.77zM813.95 573.00H816.55V579.2H813.95zM817.12 534.10H819.72V579.2H817.12zM832.98 555.20H835.58V579.2H832.98zM842.50 573.00H845.10V579.2H842.50zM848.84 558.30H851.44V579.2H848.84zM855.19 572.20H857.79V579.2H855.19zM858.36 570.10H860.96V579.2H858.36zM861.53 570.30H864.13V579.2H861.53zM877.39 558.90H879.99V579.2H877.39zM883.74 570.30H886.34V579.2H883.74zM896.43 570.30H899.03V579.2H896.43zM899.60 546.00H902.20V579.2H899.60zM902.77 499.10H905.37V579.2H902.77z" fill="#4dc790" stroke="#36b67c" stroke-width="0.7"/><path d="M116.02 568.10H118.62V579.2H116.02zM125.53 569.10H128.13V579.2H125.53zM131.88 576.20H134.48V579.2H131.88zM135.05 578.80H137.65V579.2H135.05zM138.22 564.20H140.82V579.2H138.22zM144.57 571.20H147.17V579.2H144.57zM150.91 568.10H153.51V579.2H150.91zM154.09 553.10H156.69V579.2H154.09zM157.26 563.20H159.86V579.2H157.26zM160.43 570.10H163.03V579.2H160.43zM163.60 578.20H166.20V579.2H163.60zM166.78 575.30H169.38V579.2H166.78zM169.95 577.20H172.55V579.2H169.95zM182.64 572.20H185.24V579.2H182.64zM192.15 577.20H194.75V579.2H192.15zM198.50 571.20H201.10V579.2H198.50zM211.19 572.20H213.79V579.2H211.19zM220.71 562.10H223.31V579.2H220.71zM227.05 574.10H229.65V579.2H227.05zM230.22 577.20H232.82V579.2H230.22zM233.40 576.20H236.00V579.2H233.40zM239.74 569.10H242.34V579.2H239.74zM246.09 578.20H248.69V579.2H246.09zM265.12 578.20H267.72V579.2H265.12zM268.29 569.10H270.89V579.2H268.29zM271.46 576.20H274.06V579.2H271.46zM277.81 573.00H280.41V579.2H277.81zM296.84 578.80H299.44V579.2H296.84zM300.02 577.20H302.62V579.2H300.02zM303.19 569.20H305.79V579.2H303.19zM306.36 577.20H308.96V579.2H306.36zM309.53 571.00H312.13V579.2H309.53zM315.88 573.20H318.48V579.2H315.88zM319.05 567.00H321.65V579.2H319.05zM322.22 578.80H324.82V579.2H322.22zM325.40 577.20H328.00V579.2H325.40zM328.57 576.20H331.17V579.2H328.57zM341.26 573.20H343.86V579.2H341.26zM344.43 570.30H347.03V579.2H344.43zM347.60 562.20H350.20V579.2H347.60zM350.77 497.10H353.37V579.2H350.77zM353.95 541.30H356.55V579.2H353.95zM357.12 535.20H359.72V579.2H357.12zM360.29 565.40H362.89V579.2H360.29zM363.46 566.30H366.06V579.2H363.46zM366.64 566.30H369.24V579.2H366.64zM369.81 572.50H372.41V579.2H369.81zM376.15 575.10H378.75V579.2H376.15zM379.33 568.10H381.93V579.2H379.33zM382.50 573.20H385.10V579.2H382.50zM385.67 568.10H388.27V579.2H385.67zM388.84 574.10H391.44V579.2H388.84zM398.36 570.10H400.96V579.2H398.36zM401.53 569.10H404.13V579.2H401.53zM404.71 548.10H407.31V579.2H404.71zM407.88 568.10H410.48V579.2H407.88zM411.05 572.20H413.65V579.2H411.05zM420.57 571.20H423.17V579.2H420.57zM433.26 576.20H435.86V579.2H433.26zM436.43 575.10H439.03V579.2H436.43zM439.60 575.10H442.20V579.2H439.60zM442.77 575.10H445.37V579.2H442.77zM449.12 578.20H451.72V579.2H449.12zM452.29 573.00H454.89V579.2H452.29zM458.64 577.20H461.24V579.2H458.64zM461.81 572.20H464.41V579.2H461.81zM464.98 570.10H467.58V579.2H464.98zM471.33 568.10H473.93V579.2H471.33zM477.67 573.00H480.27V579.2H477.67zM487.19 573.00H489.79V579.2H487.19zM490.36 573.00H492.96V579.2H490.36zM503.05 574.10H505.65V579.2H503.05zM506.22 572.20H508.82V579.2H506.22zM509.39 564.20H511.99V579.2H509.39zM512.57 566.30H515.17V579.2H512.57zM537.95 570.10H540.55V579.2H537.95zM541.12 576.20H543.72V579.2H541.12zM544.29 576.20H546.89V579.2H544.29zM550.64 576.20H553.24V579.2H550.64zM556.98 575.10H559.58V579.2H556.98zM566.50 572.20H569.10V579.2H566.50zM572.84 575.10H575.44V579.2H572.84zM585.53 565.30H588.13V579.2H585.53zM591.88 577.20H594.48V579.2H591.88zM595.05 577.20H597.65V579.2H595.05zM601.39 575.10H603.99V579.2H601.39zM610.91 578.20H613.51V579.2H610.91zM617.26 573.00H619.86V579.2H617.26zM620.43 577.20H623.03V579.2H620.43zM626.77 577.20H629.37V579.2H626.77zM629.95 575.10H632.55V579.2H629.95zM639.46 576.20H642.06V579.2H639.46zM652.15 559.00H654.75V579.2H652.15zM655.33 575.10H657.93V579.2H655.33zM658.50 570.10H661.10V579.2H658.50zM671.19 564.20H673.79V579.2H671.19zM677.53 574.10H680.13V579.2H677.53zM683.88 578.20H686.48V579.2H683.88zM687.05 573.00H689.65V579.2H687.05zM690.22 572.20H692.82V579.2H690.22zM693.39 568.10H695.99V579.2H693.39zM696.57 574.10H699.17V579.2H696.57zM702.91 574.10H705.51V579.2H702.91zM706.08 573.00H708.68V579.2H706.08zM712.43 578.20H715.03V579.2H712.43zM715.60 569.10H718.20V579.2H715.60zM718.77 575.10H721.37V579.2H718.77zM721.95 573.00H724.55V579.2H721.95zM734.64 565.30H737.24V579.2H734.64zM740.98 576.20H743.58V579.2H740.98zM744.15 576.20H746.75V579.2H744.15zM747.32 573.00H749.92V579.2H747.32zM750.50 578.20H753.10V579.2H750.50zM760.01 574.10H762.61V579.2H760.01zM763.19 578.20H765.79V579.2H763.19zM766.36 577.20H768.96V579.2H766.36zM769.53 577.20H772.13V579.2H769.53zM772.70 573.00H775.30V579.2H772.70zM779.05 573.00H781.65V579.2H779.05zM785.39 551.00H787.99V579.2H785.39zM801.26 562.10H803.86V579.2H801.26zM820.29 553.10H822.89V579.2H820.29zM823.46 561.10H826.06V579.2H823.46zM826.63 562.10H829.23V579.2H826.63zM829.81 569.10H832.41V579.2H829.81zM836.15 560.10H838.75V579.2H836.15zM839.32 576.20H841.92V579.2H839.32zM845.67 577.20H848.27V579.2H845.67zM852.01 572.20H854.61V579.2H852.01zM864.70 574.20H867.30V579.2H864.70zM867.88 569.20H870.48V579.2H867.88zM871.05 575.10H873.65V579.2H871.05zM874.22 572.20H876.82V579.2H874.22zM880.57 558.00H883.17V579.2H880.57zM886.91 566.30H889.51V579.2H886.91zM890.08 566.30H892.68V579.2H890.08zM893.26 571.00H895.86V579.2H893.26zM905.94 561.40H908.54V579.2H905.94zM909.12 570.30H911.72V579.2H909.12z" fill="#fd6b6c" stroke="#fa4c4e" stroke-width="0.7"/></g><rect x="64.3" y="9.15" width="890.40" height="462.45" fill="none" stroke="#f0f0f0" stroke-width="1"/><rect x="64.3" y="489.2" width="890.40" height="90.60" fill="none" stroke="#f0f0f0" stroke-width="1"/></svg></body></html>
